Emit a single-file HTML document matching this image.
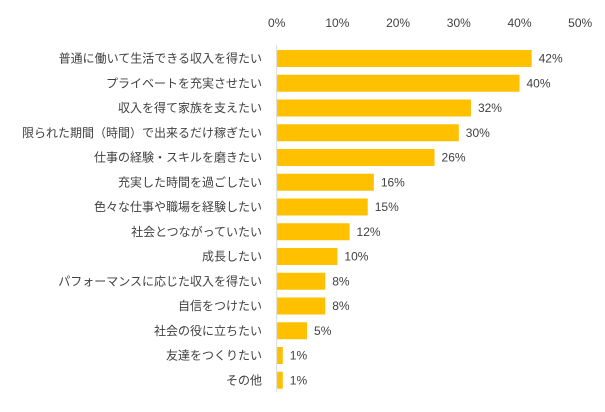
<!DOCTYPE html>
<html><head><meta charset="utf-8"><style>
body{margin:0;background:#fff;}
svg{display:block;font-family:"Liberation Sans","Noto Sans CJK JP",sans-serif;}
</style></head><body>
<svg id="chart" width="605" height="412"></svg>
<script>
const categories=["普通に働いて生活できる収入を得たい","プライベートを充実させたい","収入を得て家族を支えたい","限られた期間（時間）で出来るだけ稼ぎたい","仕事の経験・スキルを磨きたい","充実した時間を過ごしたい","色々な仕事や職場を経験したい","社会とつながっていたい","成長したい","パフォーマンスに応じた収入を得たい","自信をつけたい","社会の役に立ちたい","友達をつくりたい","その他"];
const values=[42,40,32,30,26,16,15,12,10,8,8,5,1,1];
const ticks=[0,10,20,30,40,50];
const ns="http://www.w3.org/2000/svg";
const svg=document.getElementById("chart");
const x0=276.7,scale=6.07;
const xs=v=>x0+v*scale;
const y0=50,pitch=24.75,bh=17;
const ys=i=>y0+i*pitch;
function mk(t,a){const e=document.createElementNS(ns,t);for(const k in a)e.setAttribute(k,a[k]);svg.appendChild(e);return e;}
ticks.forEach(t=>{
 const e=mk("text",{x:xs(t),y:27,"text-anchor":"middle","font-size":"12",fill:"#404040"});
 e.textContent=t+"%";
 
 
});
categories.forEach((c,i)=>{
 const r=mk("rect",{x:x0,y:ys(i),width:xs(values[i])-x0,height:bh,fill:"#FFC000"});
 
 
 const l=mk("text",{x:262,y:ys(i)+bh/2+4,"text-anchor":"end","font-size":"12",fill:"#404040"});
 l.textContent=c;
 
 
 const v=mk("text",{x:xs(values[i])+7,y:ys(i)+bh/2+4,"font-size":"12",fill:"#404040"});
 v.textContent=values[i]+"%";
 
 
});
const ax=mk("line",{x1:x0,y1:45,x2:x0,y2:392,stroke:"#d9d9d9","stroke-width":1});


</script>
</body></html>
